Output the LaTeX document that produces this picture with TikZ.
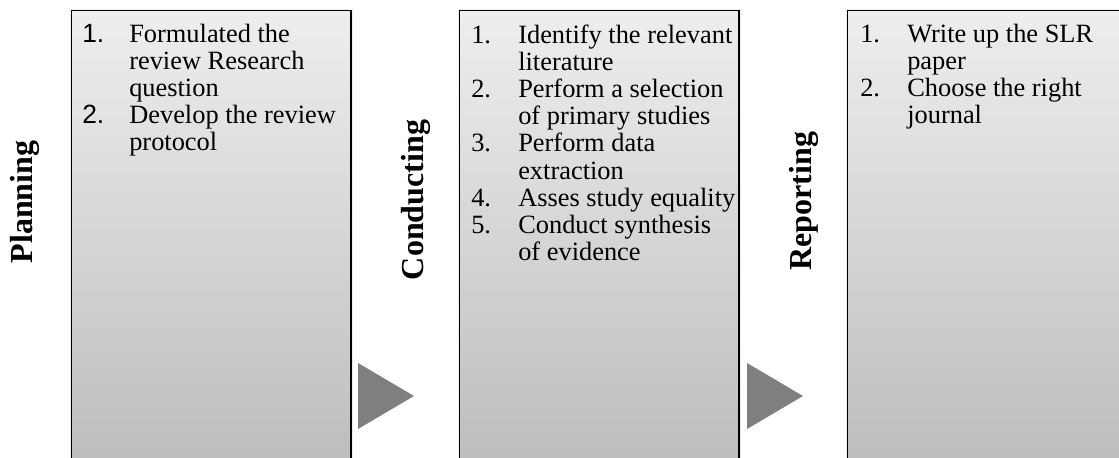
\documentclass[tikz,border=0pt]{standalone}
\usepackage{fontspec}
\setmainfont{Liberation Serif}
\newfontfamily\numsans{Liberation Sans}
\definecolor{gtop}{RGB}{238,238,238}
\definecolor{gbot}{RGB}{186,186,186}
\definecolor{arrowgray}{RGB}{127,127,127}
\begin{document}
\begin{tikzpicture}[x=0.75pt,y=-0.75pt,
  phasebox/.style={draw=black,line width=1.1pt,top color=gtop,bottom color=gbot,
    minimum width=209.5pt,minimum height=360pt,anchor=north west,inner sep=0pt,
    preaction={draw=black!7,line width=3.2pt}},
  itemlist/.style={anchor=base west,inner sep=0pt,font={\fontsize{19.8}{20.4}\selectfont}},
  phaselabel/.style={rotate=90,anchor=base,inner sep=0pt,font={\fontsize{24}{28}\selectfont\bfseries}},
  steparrow/.style={fill=arrowgray}]
\useasboundingbox (0,0) rectangle (1119,457);
\clip (0,0) rectangle (1119,457);
% boxes
\node[phasebox] (b1) at (71,10) {};
\node[phasebox] (b2) at (459,10) {};
\node[phasebox] (b3) at (847,10) {};
% phase labels
\node[phaselabel] (l1) at (32,202) {Planning};
\node[phaselabel] (l2) at (423,200) {Conducting};
\node[phaselabel] (l3) at (811,201) {Reporting};
% arrows
\fill[steparrow] (358,363) -- (414,396) -- (358,429) -- cycle;
\fill[steparrow] (747,363) -- (803,396) -- (747,429) -- cycle;
% lists
\node[itemlist] (t1) at (82,42) {\begin{tabular}[t]{@{}p{35.25pt}@{}l@{}}
{\numsans 1.} & Formulated the\\
 & review Research\\
 & question\\
{\numsans 2.} & Develop the review\\
 & protocol
\end{tabular}};
\node[itemlist] (t2) at (471,43) {\begin{tabular}[t]{@{}p{35.25pt}@{}l@{}}
1. & Identify the relevant\\
 & literature\\
2. & Perform a selection\\
 & of primary studies\\
3. & Perform data\\
 & extraction\\
4. & Asses study equality\\
5. & Conduct synthesis\\
 & of evidence
\end{tabular}};
\node[itemlist] (t3) at (860,42) {\begin{tabular}[t]{@{}p{35.25pt}@{}l@{}}
1. & Write up the SLR\\
 & paper\\
2. & Choose the right\\
 & journal
\end{tabular}};
\end{tikzpicture}
\end{document}
